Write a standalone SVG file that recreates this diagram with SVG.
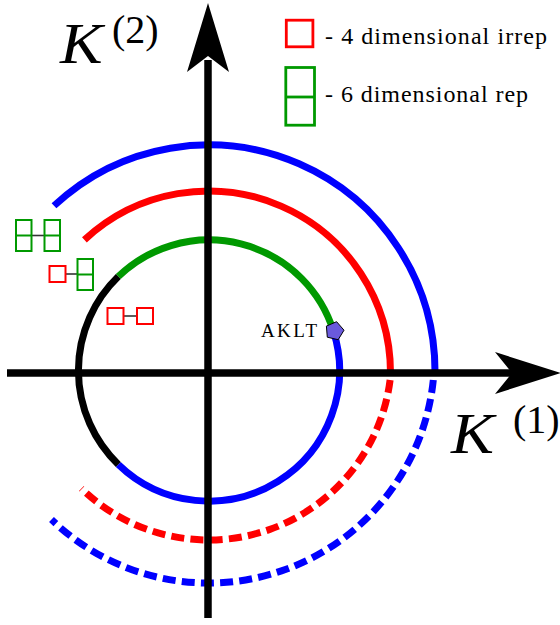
<svg xmlns="http://www.w3.org/2000/svg" width="560" height="625" viewBox="0 0 560 625">
<style>
.ax{stroke:#000;stroke-width:7.5;fill:none}
.arc{fill:none;stroke-width:7}
.dr{stroke-dasharray:13 6.24}
.db{stroke-dasharray:13 6.2}
.r{stroke:#ff0000}
.g{stroke:#009900}
.b{stroke:#0000ff}
.k{stroke:#000000}
.box{fill:#ffffff;stroke-width:2}
.lbox{fill:#ffffff;stroke-width:2.8}
.lnk{stroke:#333333;stroke-width:1.6}
.tx{font-family:"Liberation Serif","Times New Roman",serif;fill:#000000}
.it{font-style:italic}
</style>
<defs>
<g id="dbl"><rect x="0" y="0" width="15.5" height="31" class="box g"/><line x1="0" y1="15.5" x2="15.5" y2="15.5" class="g" stroke-width="2"/></g>
<rect id="sq" x="0" y="0" width="16" height="16" class="box r"/>
</defs>

<g id="arcs">
<path id="inner-green" class="arc g" d="M118.3 276.6 A130.5 130.5 0 0 1 333.4 331.0"/>
<path id="inner-blue" class="arc b" d="M333.4 331.0 A130.5 130.5 0 0 1 118.3 464.4"/>
<path id="inner-black" class="arc k" d="M118.3 464.4 A130.5 130.5 0 0 1 118.3 276.6"/>
<path id="red-solid" class="arc r" d="M84.4 239.9 A182 182 0 0 1 390.5 373"/>
<path id="blue-solid" class="arc b" d="M54 205.8 A226.5 226.5 0 0 1 435 372"/>
<path id="red-dashed" class="arc r dr" d="M390.1 380 A183 183 0 0 1 81.4 488.6"/>
<path id="blue-dashed" class="arc b db" d="M433.3 380 A226 226 0 0 1 51.5 519.6"/>
</g>

<g id="axes">
<line class="ax" x1="208" y1="618" x2="208" y2="60"/>
<line class="ax" x1="7" y1="373" x2="515" y2="373"/>
<path d="M208 3 L229 72 L208 56 L187 72 Z" fill="#000"/>
<path d="M561 373 L495 352 L512 373 L495 394 Z" fill="#000"/>
</g>

<g id="label-k2">
<text class="tx it" transform="translate(60,63) scale(1.1,1)" x="0" y="0" font-size="58">K</text>
<text class="tx" x="112" y="43" font-size="40">(2)</text>
</g>
<g id="label-k1">
<text class="tx it" transform="translate(451,453) scale(1.15,1)" x="0" y="0" font-size="56">K</text>
<text class="tx" x="513" y="433" font-size="40">(1)</text>
</g>

<g id="legend-4">
<rect class="lbox r" x="286.3" y="20.2" width="26.6" height="26.6"/>
<text class="tx" x="325" y="43.5" font-size="24" textLength="222" lengthAdjust="spacing">- 4 dimensional irrep</text>
</g>
<g id="legend-6">
<rect class="lbox g" x="285.8" y="67.5" width="28.7" height="57.7"/>
<line class="g" x1="285.8" y1="97" x2="314.5" y2="97" stroke-width="2.8"/>
<text class="tx" x="325" y="102" font-size="24" textLength="203" lengthAdjust="spacing">- 6 dimensional rep</text>
</g>

<g id="icon-66">
<line class="lnk" x1="31.5" y1="235.5" x2="44.5" y2="235.5"/>
<use href="#dbl" x="16" y="220"/>
<use href="#dbl" x="44.5" y="220"/>
</g>
<g id="icon-46">
<line class="lnk" x1="65.5" y1="274" x2="77.5" y2="274"/>
<use href="#sq" x="49.5" y="266"/>
<use href="#dbl" x="77.5" y="259"/>
</g>
<g id="icon-44">
<line class="lnk" x1="123.5" y1="316" x2="137" y2="316"/>
<use href="#sq" x="107.5" y="308"/>
<use href="#sq" x="137" y="308"/>
</g>

<g id="aklt">
<text class="tx" x="261" y="337" font-size="19" textLength="56" lengthAdjust="spacing">AKLT</text>
<polygon points="344,330.2 338.2,339.7 327.3,337.2 326.4,326.1 336.6,321.7" fill="#6a5add" stroke="#000" stroke-width="1"/>
</g>
</svg>
